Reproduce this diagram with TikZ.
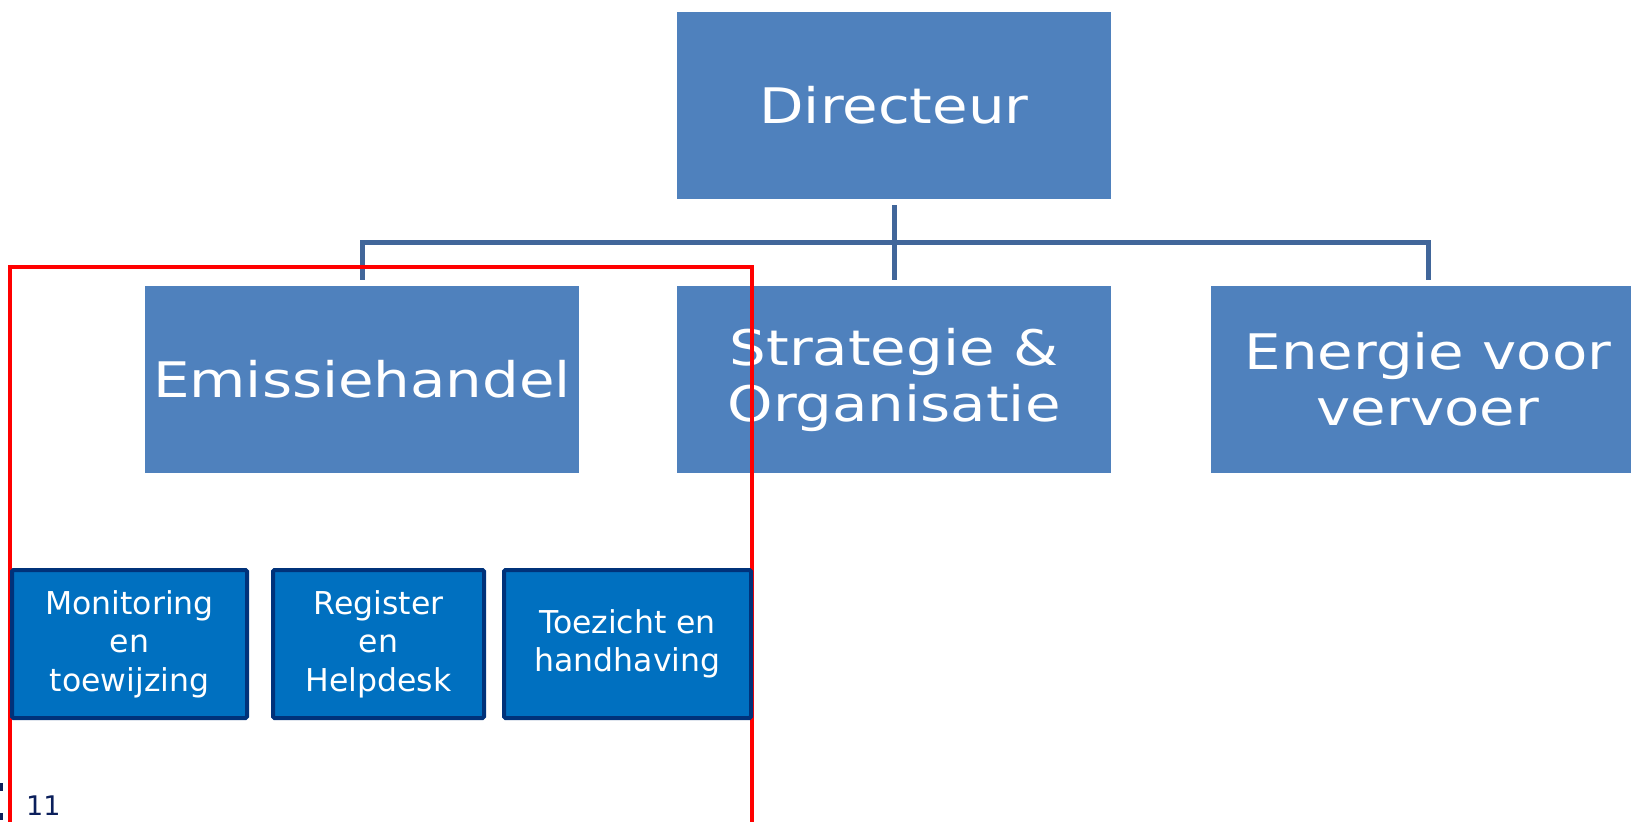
\documentclass[tikz,border=0pt]{standalone}
\usepackage{fontspec}
\setmainfont{DejaVu Sans}
\usepackage{graphicx}
\definecolor{boxblue}{HTML}{4F81BD}
\definecolor{connblue}{HTML}{41669A}
\definecolor{subfill}{HTML}{0070C0}
\definecolor{subdraw}{HTML}{00327A}
\definecolor{numnavy}{HTML}{0B1F5B}
\newcommand\widetxt[1]{\scalebox{1.18}[1]{#1}}
\begin{document}
\begin{tikzpicture}[x=1pt,y=-1pt,
  bigbox/.style={fill=boxblue, text=white, minimum width=434pt, minimum height=187pt, inner sep=0pt, align=center, font=\fontsize{49}{56}\selectfont},
  subbox/.style={fill=subfill, draw=subdraw, line width=4pt, rounded corners=1.5pt, text=white, minimum height=148pt, inner sep=0pt, align=center, font=\fontsize{31.5}{38.5}\selectfont},
  conn/.style={draw=connblue, line width=5pt},
  redframe/.style={draw=red, line width=4.3pt}]
\useasboundingbox (0,0) rectangle (1631,822);
\clip (0,0) rectangle (1631,822);
\fill[white] (0,0) rectangle (1631,822);
% level 1 and 2
\node[bigbox] (dir) at (894,105.5) {\widetxt{Directeur}};
\node[bigbox] (emis) at (362,379.5) {\widetxt{Emissiehandel}};
\node[bigbox] (strat) at (894,379.5) {\widetxt{Strategie \&}\\\widetxt{Organisatie}};
\node[bigbox] (energ) at (1428,379.5) {\widetxt{Energie voor}\\\widetxt{vervoer}};
% connectors
\coordinate (bar) at (894,242);
\draw[conn] ([yshift=-6pt]dir.south) -- ([yshift=6pt]strat.north);
\draw[conn] ([yshift=6pt]emis.north) |- (bar) -| ([yshift=6pt]energ.north);
% red frame
\draw[redframe] (10,840) -- (10,267) -- (752,267) -- (752,840);
% level 3
\node[subbox, minimum width=235pt] (mon) at (129.5,644) {Monitoring\\en\\toewijzing};
\node[subbox, minimum width=211pt] (reg) at (378.5,644) {Register\\en\\Helpdesk};
\node[subbox, minimum width=247pt] (toe) at (627.5,644) {Toezicht en\\handhaving};
% page number
\node[text=numnavy, font=\fontsize{27}{30}\selectfont, anchor=base west, inner sep=0pt] (pg) at (26,815) {11};
\fill[numnavy] (0,783) rectangle (2.7,791);
\fill[numnavy] (0,813) rectangle (2.7,820);
\end{tikzpicture}
\end{document}
